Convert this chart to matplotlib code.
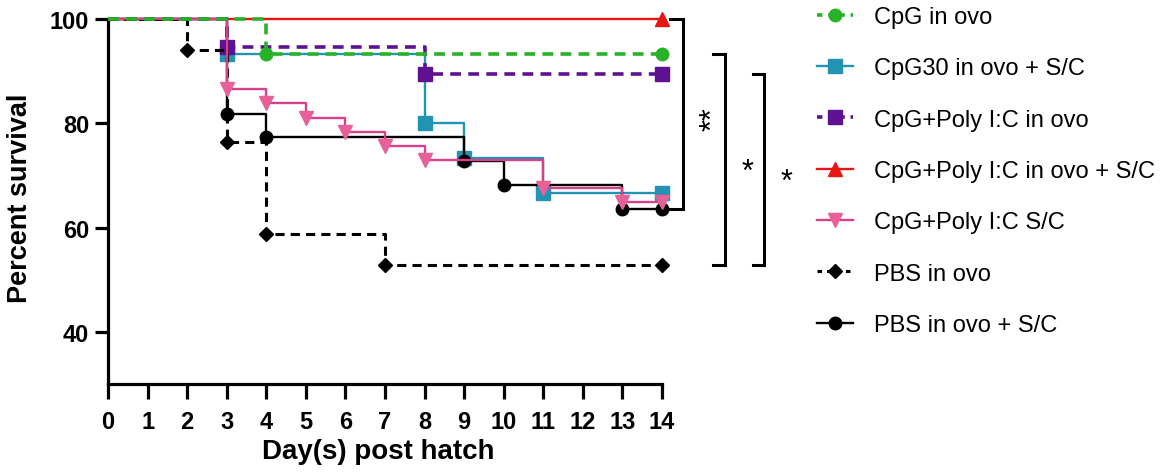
import matplotlib
matplotlib.use("Agg")
import matplotlib.pyplot as plt
from matplotlib.lines import Line2D

plt.rcParams['font.family'] = ['Liberation Sans', 'DejaVu Sans']

# ---- data ----
labels = ["CpG in ovo", "CpG30 in ovo + S/C", "CpG+Poly I:C in ovo",
          "CpG+Poly I:C in ovo + S/C", "CpG+Poly I:C S/C", "PBS in ovo",
          "PBS in ovo + S/C"]

cpg_days = [0, 4, 14]
cpg_surv = [100, 93.3, 93.3]
cpg30_days = [0, 3, 8, 9, 11, 14]
cpg30_surv = [100, 93.3, 80.0, 73.3, 66.7, 66.7]
cpgpoly_days = [0, 3, 8, 14]
cpgpoly_surv = [100, 94.7, 89.5, 89.5]
cpgpolysc_days = [0, 14]
cpgpolysc_surv = [100, 100]
polysc_days = [0, 3, 4, 5, 6, 7, 8, 11, 13, 14]
polysc_surv = [100, 86.5, 83.8, 81.1, 78.4, 75.7, 73.0, 67.6, 64.9, 64.9]
pbs_days = [0, 2, 3, 4, 7, 14]
pbs_surv = [100, 94.1, 76.5, 58.8, 52.9, 52.9]
pbssc_days = [0, 3, 4, 9, 10, 13, 14]
pbssc_surv = [100, 81.8, 77.3, 72.7, 68.2, 63.6, 63.6]

x_ticks = list(range(0, 15))
y_ticks = [40, 60, 80, 100]

# significance brackets: (upper series index, lower series index, label)
brackets = [(3, 6, "**"), (0, 5, "*"), (2, 5, "*")]

# ---- styles ----
series = [
    (cpg_days, cpg_surv, dict(color='#27b227', marker='o', ms=9, ls='--', lw=2.6, dashes=(3, 2), z=9)),
    (cpg30_days, cpg30_surv, dict(color='#2293b3', marker='s', ms=9.5, ls='-', lw=1.7, z=3)),
    (cpgpoly_days, cpgpoly_surv, dict(color='#5e1190', marker='s', ms=9.5, ls='--', lw=2.6, dashes=(3, 2), z=4)),
    (cpgpolysc_days, cpgpolysc_surv, dict(color='#e81515', marker='^', ms=10, ls='-', lw=1.7, z=2)),
    (polysc_days, polysc_surv, dict(color='#e8609a', marker='v', ms=10, ls='-', lw=1.7, z=8, lcolor='#d8418a')),
    (pbs_days, pbs_surv, dict(color='black', marker='D', ms=7.5, ls='--', lw=2.2, dashes=(3, 2), z=6)),
    (pbssc_days, pbssc_surv, dict(color='black', marker='o', ms=9, ls='-', lw=1.7, z=7)),
]

fig = plt.figure(figsize=(11.62, 4.77), dpi=100)
ax = fig.add_axes([0.093, 0.193, 0.4767, 0.765])

handles = []
for (d, s, st), lab in zip(series, labels):
    lc = st.get('lcolor', st['color'])
    kw = dict(color=lc, lw=st['lw'], zorder=st['z'], solid_capstyle='butt')
    if st['ls'] == '--':
        kw['dashes'] = st['dashes']
    ax.step(d, s, where='post', clip_on=False, **kw)
    ax.plot(d[1:], s[1:], ls='none', marker=st['marker'], ms=st['ms'],
            color=st['color'], mec=st['color'], zorder=st['z'] + 0.5, clip_on=False)
    hkw = dict(color=lc, lw=st['lw'], marker=st['marker'], ms=st['ms'],
               mfc=st['color'], mec=st['color'])
    if st['ls'] == '--':
        hkw['dashes'] = (1.5, 1.6)
    handles.append(Line2D([], [], **hkw))

ax.set_xlim(0, 14)
ax.set_ylim(30, 100)
ax.set_xticks(x_ticks)
ax.set_yticks(y_ticks)
for sp in ['top', 'right']:
    ax.spines[sp].set_visible(False)
for sp in ['left', 'bottom']:
    ax.spines[sp].set_linewidth(2.3)
ax.tick_params(axis='x', length=11, width=2.3, pad=8, labelsize=17)
ax.tick_params(axis='y', length=9.5, width=2.3, pad=4, labelsize=17)
for t in ax.get_xticklabels() + ax.get_yticklabels():
    t.set_fontweight('bold')

ax.set_xlabel("Day(s) post hatch", fontsize=20, fontweight='bold')
ax.set_ylabel("Percent survival", fontsize=19.5, fontweight='bold')
ax.xaxis.label.set_va('center')
ax.xaxis.set_label_coords(0.487, -0.184)
ax.yaxis.label.set_va('center')
ax.yaxis.set_label_coords(-0.159, 0.512)

# significance brackets
br_x = [(14.19, 14.52, 15.3), (15.28, 15.58, 16.15), (16.31, 16.59, 17.15)]
for (hi, lo, txt), (x0, x1, xt) in zip(brackets, br_x):
    top = series[hi][1][-1]
    bot = series[lo][1][-1]
    ax.plot([x0, x1, x1, x0], [top, top, bot, bot], color='black', lw=2.2,
            clip_on=False, solid_joinstyle='miter')
    if len(txt) > 1:
        ax.text(xt, (top + bot) / 2 - 0.8, txt, rotation=90, ha='center', va='center',
                fontsize=22, clip_on=False)
    else:
        ax.text(xt, (top + bot) / 2 - 2.5, txt, ha='center', va='center',
                fontsize=22, clip_on=False)

leg = ax.legend(handles, labels, loc='upper left', bbox_to_anchor=(0.703, 0.985),
                bbox_transform=fig.transFigure, frameon=False, fontsize=17,
                handlelength=1.55, handletextpad=0.85, labelspacing=1.24,
                borderpad=0, borderaxespad=0)

fig.savefig("out.png", dpi=100)
